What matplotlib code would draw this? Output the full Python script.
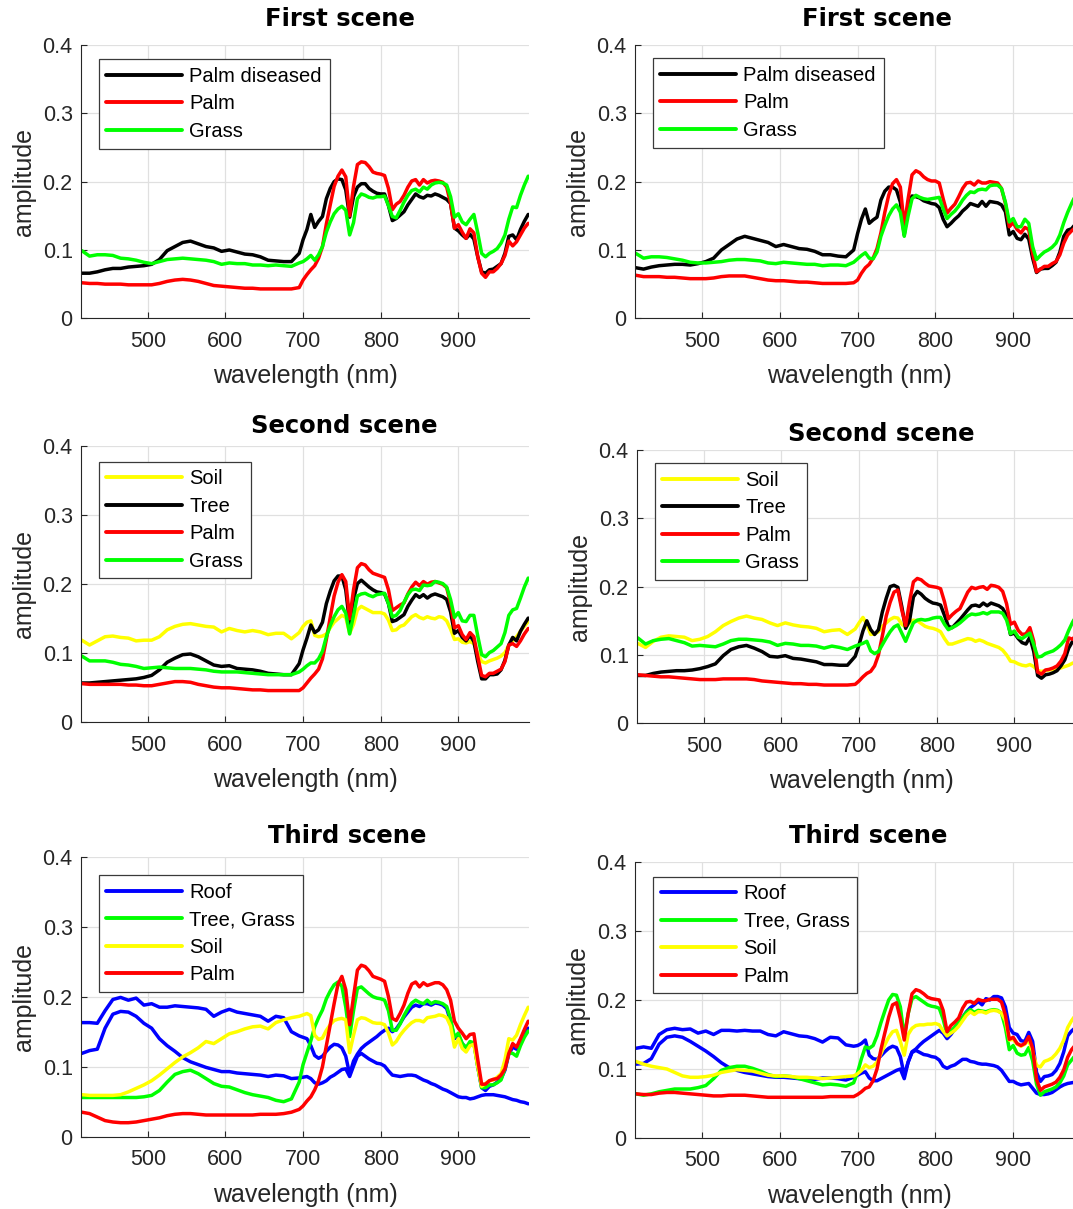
import matplotlib
matplotlib.use("Agg")
import matplotlib.pyplot as plt

plt.rcParams['font.family'] = ['Liberation Sans', 'DejaVu Sans']

# ---------------- data ----------------
WAVELENGTH = [415, 425, 435, 445, 455, 465, 475, 485, 495, 505,
              515, 525, 535, 545, 555, 565, 575, 585, 595, 605,
              615, 625, 635, 645, 655, 665, 675, 685, 695,
              700, 705, 710, 715, 720, 725, 730, 735, 740, 745,
              750, 755, 760, 765, 770, 775, 780, 785, 790, 795,
              800, 805, 810, 815, 820, 825, 830, 835, 840, 845,
              850, 855, 860, 865, 870, 875, 880, 885, 890, 895,
              900, 905, 910, 915, 920, 925, 930, 935, 940, 945,
              950, 955, 960, 965, 970, 975, 980, 985, 990]

# Scene 1 (left)
s1a_palm_diseased = [0.066,0.066,0.068,0.071,0.073,0.073,0.075,0.076,0.077,0.079, 0.086,0.099,0.105,0.111,0.113,0.109,0.105,0.103,0.098,0.100, 0.097,0.094,0.093,0.090,0.085,0.084,0.083,0.083,0.095,
    0.115,0.130,0.152,0.133,0.142,0.149,0.175,0.190,0.200,0.204, 0.203,0.188,0.148,0.178,0.192,0.197,0.197,0.190,0.186,0.183, 0.182,0.182,0.165,0.143,0.146,0.151,0.156,0.166,0.174,0.182, 0.178,0.176,0.180,0.179,0.182,0.180,0.177,0.174,0.168,0.132, 0.128,0.122,0.117,0.123,0.116,0.090,0.068,0.066,0.071,0.072, 0.076,0.080,0.095,0.120,0.122,0.115,0.130,0.142,0.152]
s1a_palm = [0.052,0.051,0.051,0.050,0.050,0.050,0.049,0.049,0.049,0.049, 0.051,0.054,0.056,0.057,0.056,0.054,0.051,0.048,0.047,0.046, 0.045,0.044,0.044,0.043,0.043,0.043,0.043,0.043,0.045,
    0.056,0.064,0.071,0.077,0.088,0.105,0.138,0.166,0.193,0.208, 0.217,0.207,0.150,0.193,0.225,0.229,0.228,0.222,0.214,0.212, 0.211,0.209,0.190,0.159,0.167,0.171,0.180,0.192,0.201,0.203, 0.195,0.203,0.198,0.201,0.202,0.201,0.199,0.192,0.168,0.132, 0.137,0.126,0.117,0.131,0.125,0.090,0.066,0.060,0.068,0.068, 0.073,0.080,0.092,0.113,0.106,0.112,0.122,0.132,0.139]
s1a_grass = [0.099,0.091,0.093,0.093,0.092,0.088,0.087,0.085,0.082,0.080, 0.083,0.086,0.087,0.088,0.087,0.086,0.085,0.083,0.079,0.081, 0.080,0.080,0.078,0.078,0.077,0.078,0.077,0.076,0.081,
    0.083,0.087,0.092,0.085,0.093,0.105,0.126,0.141,0.153,0.160, 0.164,0.158,0.122,0.140,0.175,0.182,0.180,0.177,0.176,0.178, 0.178,0.179,0.165,0.149,0.147,0.158,0.170,0.180,0.187,0.189, 0.185,0.192,0.189,0.195,0.198,0.199,0.198,0.195,0.178,0.148, 0.153,0.141,0.137,0.145,0.152,0.125,0.095,0.090,0.095,0.098, 0.102,0.110,0.122,0.145,0.163,0.162,0.180,0.195,0.208]

# Scene 1 (right)
s1b_palm_diseased = [0.074,0.072,0.075,0.077,0.078,0.079,0.079,0.078,0.080,0.083, 0.088,0.100,0.108,0.116,0.120,0.117,0.114,0.111,0.105,0.108, 0.105,0.102,0.101,0.098,0.093,0.093,0.091,0.090,0.100,
    0.124,0.145,0.160,0.139,0.144,0.148,0.173,0.186,0.192,0.192, 0.188,0.170,0.122,0.165,0.179,0.178,0.176,0.172,0.170,0.168, 0.167,0.162,0.145,0.134,0.139,0.145,0.150,0.157,0.162,0.168, 0.166,0.164,0.171,0.164,0.171,0.170,0.169,0.166,0.156,0.122, 0.127,0.117,0.115,0.123,0.116,0.088,0.067,0.072,0.073,0.073, 0.077,0.082,0.097,0.120,0.129,0.131,0.138,0.145,0.150]
s1b_palm = [0.063,0.061,0.061,0.061,0.060,0.060,0.059,0.058,0.058,0.058, 0.059,0.061,0.062,0.062,0.062,0.060,0.058,0.056,0.055,0.055, 0.054,0.053,0.053,0.052,0.051,0.051,0.051,0.051,0.052,
    0.056,0.066,0.074,0.079,0.088,0.102,0.125,0.155,0.180,0.197, 0.203,0.192,0.135,0.175,0.210,0.216,0.213,0.207,0.203,0.201, 0.201,0.198,0.175,0.154,0.161,0.167,0.178,0.190,0.198,0.199, 0.195,0.201,0.198,0.198,0.200,0.199,0.198,0.190,0.168,0.134, 0.140,0.130,0.125,0.133,0.130,0.095,0.068,0.072,0.076,0.076, 0.080,0.083,0.093,0.110,0.122,0.128,0.133,0.140,0.146]
s1b_grass = [0.095,0.088,0.090,0.090,0.089,0.087,0.085,0.082,0.081,0.081, 0.082,0.083,0.085,0.086,0.086,0.085,0.084,0.081,0.080,0.082, 0.081,0.080,0.079,0.079,0.077,0.078,0.078,0.077,0.082,
    0.087,0.092,0.096,0.088,0.087,0.097,0.120,0.136,0.150,0.160, 0.166,0.155,0.120,0.150,0.175,0.180,0.177,0.175,0.174,0.175, 0.176,0.177,0.160,0.146,0.152,0.157,0.164,0.173,0.180,0.185, 0.184,0.188,0.189,0.188,0.194,0.195,0.195,0.190,0.170,0.141, 0.146,0.134,0.134,0.145,0.139,0.105,0.086,0.092,0.097,0.100, 0.104,0.110,0.122,0.140,0.155,0.168,0.180,0.190,0.200]

# Scene 2 (left)
s2a_soil = [0.119,0.112,0.118,0.124,0.125,0.123,0.122,0.118,0.119,0.119, 0.124,0.134,0.139,0.142,0.143,0.141,0.139,0.138,0.131,0.136, 0.133,0.131,0.133,0.131,0.127,0.129,0.129,0.121,0.130,
    0.139,0.145,0.147,0.126,0.124,0.125,0.128,0.137,0.145,0.150, 0.155,0.152,0.129,0.142,0.163,0.168,0.165,0.162,0.159,0.159, 0.159,0.157,0.148,0.133,0.134,0.139,0.141,0.147,0.153,0.156, 0.152,0.150,0.153,0.151,0.150,0.153,0.152,0.147,0.135,0.120, 0.121,0.116,0.115,0.117,0.114,0.100,0.088,0.086,0.089,0.091, 0.093,0.096,0.101,0.112,0.118,0.124,0.132,0.139,0.146]
s2a_tree = [0.057,0.057,0.058,0.059,0.060,0.061,0.062,0.063,0.065,0.068, 0.076,0.087,0.093,0.098,0.099,0.095,0.089,0.083,0.081,0.082, 0.078,0.077,0.076,0.074,0.071,0.070,0.069,0.069,0.085,
    0.105,0.122,0.141,0.130,0.134,0.145,0.172,0.190,0.205,0.212, 0.212,0.192,0.143,0.178,0.201,0.206,0.201,0.196,0.192,0.189, 0.188,0.186,0.172,0.146,0.148,0.152,0.156,0.168,0.177,0.185, 0.181,0.185,0.180,0.184,0.186,0.184,0.182,0.178,0.160,0.129, 0.133,0.123,0.118,0.126,0.117,0.088,0.063,0.063,0.069,0.069, 0.070,0.076,0.090,0.112,0.123,0.118,0.132,0.142,0.151]
s2a_palm = [0.056,0.055,0.055,0.055,0.055,0.055,0.054,0.054,0.053,0.053, 0.055,0.057,0.059,0.059,0.058,0.055,0.053,0.051,0.050,0.050, 0.049,0.048,0.047,0.047,0.046,0.046,0.046,0.046,0.046,
    0.050,0.057,0.064,0.070,0.077,0.092,0.120,0.152,0.183,0.203, 0.214,0.204,0.150,0.192,0.224,0.230,0.228,0.221,0.216,0.214, 0.212,0.210,0.192,0.162,0.166,0.170,0.173,0.186,0.196,0.203, 0.198,0.204,0.200,0.203,0.204,0.202,0.200,0.195,0.172,0.137, 0.140,0.127,0.120,0.130,0.124,0.095,0.068,0.066,0.071,0.071, 0.074,0.077,0.088,0.112,0.114,0.110,0.118,0.128,0.136]
s2a_grass = [0.096,0.089,0.089,0.089,0.087,0.084,0.083,0.081,0.078,0.079, 0.080,0.079,0.078,0.078,0.078,0.077,0.076,0.074,0.073,0.073, 0.073,0.072,0.071,0.070,0.069,0.069,0.069,0.069,0.073,
    0.077,0.082,0.086,0.086,0.092,0.103,0.124,0.140,0.153,0.163, 0.168,0.158,0.128,0.155,0.183,0.186,0.187,0.184,0.182,0.185, 0.186,0.187,0.172,0.153,0.155,0.162,0.174,0.185,0.192,0.193, 0.191,0.199,0.198,0.199,0.204,0.203,0.201,0.196,0.178,0.152, 0.159,0.147,0.146,0.155,0.155,0.125,0.098,0.095,0.101,0.104, 0.109,0.114,0.130,0.155,0.163,0.165,0.180,0.196,0.209]

# Scene 2 (right)
s2b_soil = [0.117,0.111,0.120,0.126,0.128,0.127,0.126,0.121,0.123,0.127, 0.134,0.143,0.149,0.154,0.157,0.154,0.152,0.147,0.143,0.147, 0.144,0.142,0.141,0.139,0.134,0.136,0.137,0.130,0.138,
    0.147,0.155,0.145,0.130,0.131,0.134,0.142,0.147,0.152,0.155, 0.154,0.145,0.141,0.147,0.151,0.150,0.146,0.142,0.140,0.139, 0.137,0.134,0.124,0.116,0.116,0.118,0.120,0.122,0.124,0.123, 0.120,0.122,0.120,0.117,0.115,0.113,0.111,0.107,0.100,0.091, 0.090,0.087,0.085,0.084,0.086,0.083,0.077,0.076,0.077,0.078, 0.079,0.080,0.081,0.083,0.085,0.088,0.090,0.092,0.094]
s2b_tree = [0.070,0.070,0.073,0.075,0.076,0.077,0.077,0.078,0.080,0.083, 0.087,0.099,0.108,0.112,0.114,0.110,0.105,0.098,0.097,0.099, 0.095,0.094,0.092,0.090,0.086,0.086,0.085,0.085,0.098,
    0.115,0.135,0.150,0.137,0.130,0.137,0.163,0.183,0.200,0.202, 0.199,0.171,0.139,0.150,0.185,0.193,0.189,0.183,0.179,0.176, 0.175,0.173,0.158,0.142,0.140,0.146,0.152,0.159,0.166,0.172, 0.173,0.171,0.176,0.172,0.176,0.174,0.172,0.168,0.158,0.130, 0.132,0.124,0.118,0.116,0.126,0.105,0.070,0.066,0.071,0.072, 0.074,0.077,0.084,0.093,0.110,0.120,0.128,0.135,0.140]
s2b_palm = [0.071,0.070,0.069,0.068,0.068,0.067,0.066,0.065,0.064,0.064, 0.064,0.065,0.065,0.065,0.065,0.064,0.062,0.061,0.060,0.059, 0.058,0.058,0.057,0.057,0.056,0.056,0.056,0.056,0.057,
    0.062,0.068,0.073,0.076,0.084,0.100,0.128,0.157,0.177,0.192, 0.195,0.166,0.143,0.178,0.207,0.212,0.210,0.205,0.201,0.200, 0.199,0.197,0.178,0.153,0.159,0.164,0.168,0.180,0.192,0.199, 0.197,0.199,0.200,0.196,0.202,0.201,0.199,0.193,0.175,0.145, 0.148,0.136,0.130,0.131,0.140,0.120,0.075,0.072,0.078,0.079, 0.081,0.084,0.091,0.102,0.125,0.123,0.130,0.137,0.143]
s2b_grass = [0.125,0.116,0.121,0.123,0.124,0.121,0.118,0.113,0.114,0.113, 0.112,0.116,0.121,0.123,0.123,0.122,0.121,0.119,0.114,0.117, 0.116,0.114,0.114,0.113,0.110,0.113,0.111,0.108,0.113,
    0.115,0.117,0.120,0.106,0.102,0.105,0.115,0.125,0.134,0.141, 0.144,0.132,0.120,0.134,0.147,0.151,0.152,0.151,0.152,0.154, 0.155,0.155,0.145,0.137,0.140,0.143,0.147,0.152,0.157,0.160, 0.159,0.160,0.162,0.160,0.163,0.163,0.163,0.161,0.151,0.131, 0.135,0.126,0.124,0.128,0.132,0.115,0.097,0.098,0.102,0.104, 0.106,0.110,0.115,0.122,0.136,0.148,0.158,0.165,0.172]

# Scene 3 (left)
s3a_roof_1 = [0.163,0.163,0.162,0.180,0.196,0.199,0.195,0.198,0.188,0.190, 0.185,0.185,0.187,0.186,0.185,0.184,0.182,0.172,0.178,0.182, 0.178,0.176,0.174,0.172,0.165,0.172,0.170,0.150,0.144,
    0.142,0.140,0.130,0.116,0.112,0.115,0.122,0.128,0.132,0.131, 0.127,0.115,0.089,0.108,0.118,0.126,0.131,0.135,0.139,0.143, 0.148,0.152,0.155,0.150,0.154,0.162,0.171,0.178,0.185,0.188, 0.186,0.190,0.190,0.188,0.191,0.190,0.188,0.183,0.165,0.140, 0.145,0.133,0.127,0.132,0.135,0.100,0.070,0.066,0.072,0.074, 0.078,0.083,0.095,0.118,0.128,0.125,0.138,0.148,0.155]
s3a_roof_2 = [0.119,0.123,0.125,0.155,0.175,0.179,0.178,0.172,0.162,0.155, 0.140,0.130,0.122,0.113,0.107,0.103,0.099,0.096,0.093,0.093, 0.091,0.090,0.089,0.088,0.086,0.088,0.087,0.083,0.084,
    0.085,0.086,0.083,0.077,0.075,0.077,0.080,0.085,0.088,0.092, 0.096,0.097,0.086,0.101,0.115,0.119,0.115,0.111,0.108,0.105, 0.104,0.101,0.094,0.088,0.087,0.086,0.087,0.088,0.088,0.087, 0.084,0.081,0.079,0.076,0.074,0.071,0.068,0.066,0.063,0.060, 0.057,0.056,0.056,0.054,0.055,0.057,0.059,0.060,0.060,0.060, 0.059,0.058,0.057,0.055,0.053,0.052,0.050,0.049,0.047]
s3a_tree_grass = [0.056,0.056,0.056,0.056,0.056,0.056,0.056,0.056,0.057,0.059, 0.066,0.078,0.089,0.093,0.095,0.090,0.083,0.076,0.072,0.071, 0.067,0.063,0.060,0.058,0.056,0.052,0.050,0.054,0.078,
    0.103,0.120,0.137,0.157,0.170,0.181,0.197,0.208,0.217,0.221, 0.215,0.185,0.143,0.180,0.212,0.214,0.209,0.204,0.200,0.198, 0.197,0.195,0.180,0.152,0.152,0.161,0.173,0.183,0.191,0.195, 0.192,0.190,0.195,0.190,0.193,0.192,0.190,0.186,0.168,0.142, 0.148,0.133,0.127,0.136,0.134,0.100,0.070,0.070,0.074,0.074, 0.077,0.081,0.097,0.120,0.119,0.115,0.130,0.142,0.151]
s3a_soil = [0.060,0.059,0.059,0.059,0.059,0.060,0.064,0.069,0.074,0.080, 0.088,0.097,0.106,0.114,0.120,0.127,0.136,0.133,0.140,0.147, 0.150,0.154,0.157,0.158,0.154,0.163,0.167,0.170,0.172,
    0.174,0.176,0.173,0.145,0.139,0.141,0.152,0.160,0.166,0.168, 0.169,0.167,0.120,0.145,0.167,0.170,0.169,0.166,0.163,0.162, 0.162,0.160,0.148,0.131,0.136,0.145,0.152,0.158,0.163,0.166, 0.166,0.164,0.170,0.171,0.172,0.174,0.173,0.170,0.158,0.128, 0.140,0.126,0.121,0.130,0.132,0.100,0.072,0.076,0.080,0.081, 0.085,0.090,0.110,0.140,0.138,0.145,0.160,0.173,0.185]
s3a_palm = [0.035,0.033,0.028,0.023,0.021,0.020,0.020,0.021,0.023,0.025, 0.027,0.030,0.032,0.033,0.033,0.032,0.031,0.031,0.031,0.031, 0.031,0.031,0.031,0.032,0.032,0.032,0.033,0.035,0.039,
    0.044,0.051,0.057,0.067,0.080,0.100,0.130,0.160,0.190,0.218, 0.229,0.210,0.160,0.200,0.238,0.245,0.243,0.237,0.229,0.227, 0.225,0.222,0.200,0.169,0.166,0.176,0.188,0.205,0.218,0.221, 0.214,0.220,0.216,0.218,0.220,0.220,0.217,0.210,0.195,0.165, 0.155,0.148,0.140,0.146,0.147,0.110,0.075,0.075,0.080,0.082, 0.083,0.088,0.097,0.119,0.133,0.128,0.140,0.153,0.165]

# Scene 3 (right)
s3b_roof_1 = [0.130,0.132,0.130,0.150,0.157,0.159,0.157,0.158,0.152,0.155, 0.150,0.156,0.156,0.155,0.156,0.155,0.155,0.150,0.148,0.154, 0.151,0.148,0.147,0.144,0.139,0.146,0.145,0.135,0.133,
    0.134,0.137,0.142,0.120,0.115,0.114,0.119,0.125,0.130,0.133, 0.131,0.118,0.091,0.110,0.125,0.129,0.135,0.140,0.144,0.148, 0.152,0.156,0.152,0.144,0.150,0.158,0.166,0.175,0.183,0.189, 0.193,0.198,0.193,0.202,0.200,0.205,0.205,0.203,0.190,0.160, 0.152,0.150,0.141,0.140,0.153,0.140,0.095,0.082,0.089,0.090, 0.092,0.098,0.108,0.125,0.148,0.155,0.160,0.165,0.170]
s3b_roof_2 = [0.107,0.108,0.115,0.136,0.146,0.148,0.146,0.140,0.133,0.126, 0.118,0.109,0.102,0.098,0.095,0.093,0.091,0.089,0.088,0.088, 0.087,0.086,0.085,0.085,0.087,0.087,0.086,0.084,0.088,
    0.091,0.094,0.096,0.087,0.083,0.083,0.086,0.089,0.092,0.095, 0.098,0.100,0.086,0.110,0.124,0.127,0.124,0.121,0.120,0.118, 0.117,0.113,0.104,0.101,0.104,0.106,0.110,0.114,0.114,0.111, 0.110,0.108,0.107,0.107,0.106,0.105,0.103,0.098,0.090,0.082, 0.082,0.079,0.077,0.078,0.079,0.072,0.065,0.063,0.063,0.064, 0.066,0.070,0.074,0.077,0.079,0.080,0.081,0.082,0.083]
s3b_tree_grass = [0.064,0.062,0.064,0.067,0.069,0.071,0.071,0.071,0.073,0.076, 0.086,0.098,0.102,0.104,0.104,0.101,0.097,0.092,0.089,0.090, 0.089,0.086,0.083,0.080,0.077,0.078,0.077,0.075,0.080,
    0.095,0.115,0.132,0.130,0.134,0.148,0.167,0.184,0.200,0.208, 0.207,0.190,0.147,0.180,0.202,0.205,0.201,0.197,0.193,0.191, 0.190,0.188,0.172,0.150,0.155,0.161,0.168,0.175,0.182,0.186, 0.182,0.185,0.184,0.183,0.185,0.186,0.185,0.181,0.160,0.128, 0.134,0.123,0.120,0.121,0.131,0.112,0.078,0.062,0.067,0.069, 0.071,0.074,0.080,0.090,0.106,0.113,0.120,0.126,0.132]
s3b_soil = [0.111,0.107,0.104,0.102,0.100,0.095,0.090,0.088,0.088,0.089, 0.091,0.095,0.097,0.099,0.098,0.097,0.094,0.091,0.090,0.090, 0.089,0.088,0.088,0.087,0.086,0.087,0.088,0.089,0.090,
    0.093,0.098,0.106,0.102,0.104,0.110,0.122,0.135,0.146,0.154, 0.156,0.140,0.120,0.150,0.159,0.163,0.164,0.164,0.165,0.165, 0.166,0.164,0.155,0.148,0.152,0.156,0.162,0.170,0.178,0.183, 0.179,0.183,0.183,0.181,0.184,0.185,0.184,0.181,0.170,0.142, 0.143,0.136,0.133,0.136,0.142,0.125,0.105,0.103,0.111,0.113, 0.116,0.122,0.130,0.142,0.160,0.170,0.178,0.185,0.190]
s3b_palm = [0.064,0.063,0.063,0.065,0.066,0.066,0.065,0.064,0.063,0.062, 0.061,0.061,0.062,0.062,0.062,0.061,0.060,0.059,0.059,0.059, 0.059,0.059,0.059,0.059,0.059,0.060,0.060,0.060,0.060,
    0.063,0.067,0.072,0.074,0.083,0.100,0.128,0.152,0.175,0.193, 0.196,0.173,0.142,0.180,0.209,0.215,0.213,0.209,0.204,0.202, 0.201,0.200,0.185,0.154,0.163,0.168,0.174,0.188,0.197,0.198, 0.195,0.201,0.199,0.199,0.201,0.201,0.201,0.197,0.178,0.143, 0.146,0.137,0.134,0.137,0.147,0.130,0.085,0.069,0.074,0.076, 0.078,0.081,0.088,0.099,0.117,0.128,0.135,0.140,0.145]

X_TICKS = [500, 600, 700, 800, 900]
Y_TICKS = [0, 0.1, 0.2, 0.3, 0.4]
Y_TICK_LABELS = ['0', '0.1', '0.2', '0.3', '0.4']

BLACK, RED, GREEN, YELLOW, BLUE = '#000000', '#ff0000', '#00ff00', '#ffff00', '#0000ff'

# ---------------- layout (pixel based) ----------------
W, H = 1073, 1209
fig = plt.figure(figsize=(W / 100, H / 100), dpi=100)
DARK = '#262626'
GRID = '#e0e0e0'


def px_rect(l, t, r, b):
    return [l / W, 1 - b / H, (r - l) / W, (b - t) / H]


panels = [
    dict(rect=(81, 45, 529, 318.3), title='First scene', tpos=(340, 19), leg=(98.8, 59.3),
         series=[('Palm diseased', s1a_palm_diseased, BLACK), ('Palm', s1a_palm, RED), ('Grass', s1a_grass, GREEN)]),
    dict(rect=(635, 45, 1084, 318.3), title='First scene', tpos=(877, 19), leg=(652.8, 58.3),
         series=[('Palm diseased', s1b_palm_diseased, BLACK), ('Palm', s1b_palm, RED), ('Grass', s1b_grass, GREEN)]),
    dict(rect=(81, 446.3, 529, 722.3), title='Second scene', tpos=(344, 426), leg=(98.8, 461.7),
         series=[('Soil', s2a_soil, YELLOW), ('Tree', s2a_tree, BLACK), ('Palm', s2a_palm, RED), ('Grass', s2a_grass, GREEN)]),
    dict(rect=(637, 450, 1085, 723.3), title='Second scene', tpos=(881, 434), leg=(654.5, 463.3),
         series=[('Soil', s2b_soil, YELLOW), ('Tree', s2b_tree, BLACK), ('Palm', s2b_palm, RED), ('Grass', s2b_grass, GREEN)]),
    dict(rect=(81, 856.7, 529, 1136.7), title='Third scene', tpos=(347, 836), leg=(98.8, 875),
         series=[('Roof', s3a_roof_1, BLUE), ('_nolegend_', s3a_roof_2, BLUE), ('Tree, Grass', s3a_tree_grass, GREEN),
                 ('Soil', s3a_soil, YELLOW), ('Palm', s3a_palm, RED)]),
    dict(rect=(635, 862, 1084, 1138), title='Third scene', tpos=(868, 836), leg=(653, 876.7),
         series=[('Roof', s3b_roof_1, BLUE), ('_nolegend_', s3b_roof_2, BLUE), ('Tree, Grass', s3b_tree_grass, GREEN),
                 ('Soil', s3b_soil, YELLOW), ('Palm', s3b_palm, RED)]),
]

for p in panels:
    l, t, r, b = p['rect']
    ax = fig.add_axes(px_rect(l, t, r, b))
    hpx = b - t
    wpx = r - l
    for label, ys, color in p['series']:
        assert len(ys) == len(WAVELENGTH), (label, len(ys))
        ax.plot(WAVELENGTH, ys, color=color, lw=2.5, label=label,
                solid_joinstyle='round', solid_capstyle='round')
    ax.set_xlim(414, 991)
    ax.set_ylim(0, 0.4)
    ax.set_xticks(X_TICKS)
    ax.set_yticks(Y_TICKS)
    ax.set_yticklabels(Y_TICK_LABELS)
    ax.grid(True, color=GRID, lw=0.9)
    ax.set_axisbelow(True)
    for s in ('top', 'right'):
        ax.spines[s].set_visible(False)
    for s in ('left', 'bottom'):
        ax.spines[s].set_color(DARK)
        ax.spines[s].set_linewidth(0.8)
    ax.tick_params(direction='in', length=4, width=0.8, color=DARK,
                   labelcolor=DARK, labelsize=15.5)
    ax.tick_params(axis='x', pad=9)
    ax.tick_params(axis='y', pad=6)
    ax.set_xlabel('wavelength (nm)', fontsize=18, color=DARK)
    ax.xaxis.label.set_va('center')
    ax.xaxis.set_label_coords(0.5, -58 / hpx)
    ax.set_ylabel('amplitude', fontsize=18, color=DARK)
    ax.yaxis.label.set_va('center')
    ax.yaxis.set_label_coords(-57 / wpx, 0.5)

    lx, ly = p['leg']
    leg = ax.legend(loc='upper left', bbox_to_anchor=(lx / W, 1 - ly / H),
                    bbox_transform=fig.transFigure, borderaxespad=0,
                    fontsize=14.5, handlelength=3.75, handletextpad=0.37,
                    borderpad=0.38, labelspacing=0.42, fancybox=False,
                    framealpha=1, edgecolor='#3a3a3a')
    leg.get_frame().set_linewidth(0.9)
    for txt in leg.get_texts():
        txt.set_color('#000000')
    for h in leg.get_lines():
        h.set_linewidth(2.8)

    tx, ty = p['tpos']
    fig.text(tx / W, 1 - ty / H, p['title'], ha='center', va='center',
             fontsize=17.5, fontweight='bold', family='DejaVu Sans', color='#000000')

fig.savefig('out.png', dpi=100)
